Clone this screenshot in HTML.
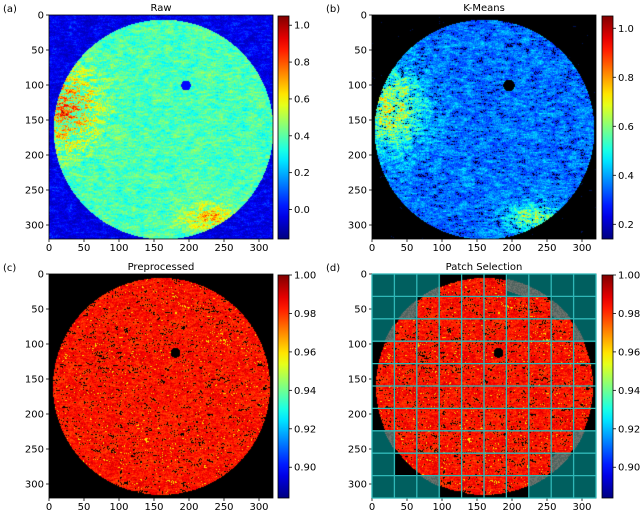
<!DOCTYPE html>
<html><head><meta charset="utf-8">
<style>
body{margin:0;background:#fff;width:640px;height:513px;overflow:hidden;position:relative;font-family:"Liberation Sans","DejaVu Sans",sans-serif}
canvas{position:absolute}
svg{position:absolute;left:0;top:0}
text{font-family:"DejaVu Sans","Liberation Sans",sans-serif;font-size:10px;fill:#000}
</style></head>
<body>
<canvas id="ca" width="224" height="224" style="left:49px;top:15px;width:224px;height:224px"></canvas>
<canvas id="cb" width="224" height="224" style="left:372px;top:15px;width:224px;height:224px"></canvas>
<canvas id="cc" width="224" height="224" style="left:49px;top:274px;width:224px;height:224px"></canvas>
<canvas id="cd" width="224" height="224" style="left:372px;top:274px;width:224px;height:224px"></canvas>
<svg id="s" width="640" height="513"></svg>
<script>
const axisTicks=[0,50,100,150,200,250,300];
const cbTicksA=[0.0,0.2,0.4,0.6,0.8,1.0];
const cbRangeA=[-0.16,1.05];
const cbTicksB=[0.2,0.4,0.6,0.8,1.0];
const cbRangeB=[0.14,1.05];
const cbTicksC=[0.90,0.92,0.94,0.96,0.98,1.00];
const cbRangeC=[0.884,1.0];
const titles=["Raw","K-Means","Preprocessed","Patch Selection"];
const panelLetters=["(a)","(b)","(c)","(d)"];
const patchMask=[
[0,0,0,1,1,1,0,0,0,0],
[0,0,1,1,1,1,1,1,0,0],
[0,1,1,1,1,1,1,1,1,0],
[1,1,1,1,1,1,1,1,1,1],
[1,1,1,1,1,1,1,1,1,1],
[1,1,1,1,1,1,1,1,1,1],
[1,1,1,1,1,1,1,1,1,1],
[0,1,1,1,1,1,1,1,1,0],
[0,1,1,1,1,1,1,1,0,0],
[0,0,0,1,1,1,1,0,0,0]];

function jet(t){t=Math.max(0,Math.min(1,t));
 const r=Math.max(0,Math.min(1,1.5-Math.abs(4*t-3)));
 const g=Math.max(0,Math.min(1,1.5-Math.abs(4*t-2)));
 const b=Math.max(0,Math.min(1,1.5-Math.abs(4*t-1)));
 return [r*255,g*255,b*255];}
function h(i,j,s){let n=i*374761393+j*668265263+s*1442695041;n=(n^(n>>>13))*1274126177;n=n^(n>>>16);return ((n>>>0)%10000)/10000;}
function vn(x,y,sc,s){const fx=x/sc,fy=y/sc,i=Math.floor(fx),j=Math.floor(fy),u=fx-i,v=fy-j;
 const a=h(i,j,s),b=h(i+1,j,s),c=h(i,j+1,s),d=h(i+1,j+1,s);
 const uu=u*u*(3-2*u),vv=v*v*(3-2*v);return a*(1-uu)*(1-vv)+b*uu*(1-vv)+c*(1-uu)*vv+d*uu*vv;}
function noise(x,y,s){return 0.45*vn(x*0.5,y*1.5,3,s)+0.2*vn(x,y,10,s+1)+0.35*h(Math.floor(x/1.4),Math.floor(y/1.4),s+2);}

function paint(id,fn){const c=document.getElementById(id),ctx=c.getContext('2d'),im=ctx.createImageData(224,224);
 for(let py=0;py<224;py++)for(let px=0;px<224;px++){const x=px/0.7,y=py/0.7;const col=fn(x,y);const k=(py*224+px)*4;
  im.data[k]=col[0];im.data[k+1]=col[1];im.data[k+2]=col[2];im.data[k+3]=255;}
 ctx.putImageData(im,0,0);}
function inC(x,y,cx,cy,r){return Math.hypot(x-cx,y-cy)<r;}
paint('ca',(x,y)=>{const n=noise(x,y,1);let v;
 if(inC(x,y,163,163,157)){v=0.22+0.32*n;
  const l=Math.exp(-(((x-25)/45)**2+((y-135)/55)**2));v+=l*0.6*(n>0.5?n:0.3*n);
  const br=Math.exp(-(((x-230)/40)**2+((y-290)/20)**2));v+=br*0.5*n;
  if(Math.hypot(x-195,y-100)<7)v=0.0;}
 else v=-0.1+0.25*n*n;
 return jet((v-cbRangeA[0])/(cbRangeA[1]-cbRangeA[0]));});
paint('cb',(x,y)=>{const n=noise(x,y,5);let v;
 if(inC(x,y,160,163,157)){v=0.2+0.3*n;
  const l=Math.exp(-(((x-25)/45)**2+((y-135)/55)**2));v+=l*0.55*n;
  const br=Math.exp(-(((x-230)/40)**2+((y-290)/20)**2));v+=br*0.45*n;
  if(Math.hypot(x-195,y-100)<8)return [0,0,0];
  if(n<0.25)return [0,0,40];}
 else return n>0.85?[0,20,90]:[0,0,0];
 return jet((v-cbRangeB[0])/(cbRangeB[1]-cbRangeB[0]));});
function prep(x,y){const n=noise(x,y,9);
 if(!inC(x,y,160,160,155))return null;
 if(Math.hypot(x-180,y-112)<7)return [0,0,0];
 if(n<0.27)return [0,0,0];
 let v=0.968+0.03*n; if(n>0.8)v=0.96;
 return jet((v-cbRangeC[0])/(cbRangeC[1]-cbRangeC[0]));}
paint('cc',(x,y)=>prep(x,y)||[0,0,0]);
paint('cd',(x,y)=>{const r=Math.min(9,Math.floor(y/32)),c=Math.min(9,Math.floor(x/32));
 if(patchMask[r][c])return prep(x,y)||[0,0,0];
 const d=Math.hypot(x-160,y-160);
 if(d<157&&d>140)return h(Math.floor(x),Math.floor(y),3)>0.5?[110,115,110]:[80,100,95];
 return [0,95,95];});

const S=document.getElementById('s');const NS='http://www.w3.org/2000/svg';
function el(t,a,txt){const e=document.createElementNS(NS,t);for(const k in a)e.setAttribute(k,a[k]);if(txt!=null)e.textContent=txt;S.appendChild(e);return e;}
const panels=[{x:49,y:15},{x:372,y:15},{x:49,y:274},{x:372,y:274}];
const cbs=[{x:278,ticks:cbTicksA,range:cbRangeA,fmt:1},{x:602,ticks:cbTicksB,range:cbRangeB,fmt:1},{x:278,ticks:cbTicksC,range:cbRangeC,fmt:2},{x:602,ticks:cbTicksC,range:cbRangeC,fmt:2}];
const g=el('defs',{});const lg=document.createElementNS(NS,'linearGradient');lg.setAttribute('id','jg');lg.setAttribute('x1','0');lg.setAttribute('y1','1');lg.setAttribute('x2','0');lg.setAttribute('y2','0');
for(let i=0;i<=20;i++){const c=jet(i/20);const st=document.createElementNS(NS,'stop');st.setAttribute('offset',i/20);st.setAttribute('stop-color',`rgb(${c.map(Math.round).join(',')})`);lg.appendChild(st);}g.appendChild(lg);
panels.forEach((p,i)=>{
 const sx=v=>p.x+v*0.7,sy=v=>p.y+v*0.7;
 const fr=el('rect',{x:p.x,y:p.y,width:224,height:224,fill:'none',stroke:'#000','stroke-width':0.8});
 
 axisTicks.forEach(t=>{
  el('line',{x1:sx(t),x2:sx(t),y1:p.y+224,y2:p.y+227,stroke:'#000','stroke-width':0.8});
  const xl=el('text',{x:sx(t),y:p.y+236,'text-anchor':'middle'},t);
  el('line',{x1:p.x-3,x2:p.x,y1:sy(t),y2:sy(t),stroke:'#000','stroke-width':0.8});
  const yl=el('text',{x:p.x-5,y:sy(t)+3.5,'text-anchor':'end'},t);
 });
 const tt=el('text',{x:p.x+112,y:p.y-4,'text-anchor':'middle','font-size':'10.5'},titles[i]);
 const pl=el('text',{x:p.x-46,y:p.y-3,'font-size':'11'},panelLetters[i]);
 const cb=cbs[i];const top=p.y+1,bot=p.y+224;
 const cr=el('rect',{x:cb.x,y:top,width:11,height:bot-top,fill:'url(#jg)',stroke:'#000','stroke-width':0.8});
 
 cb.ticks.forEach(t=>{const y=bot-(t-cb.range[0])/(cb.range[1]-cb.range[0])*(bot-top);
  el('line',{x1:cb.x+11,x2:cb.x+14,y1:y,y2:y,stroke:'#000','stroke-width':0.8});
  const cl=el('text',{x:cb.x+16,y:y+3.5},t.toFixed(cb.fmt));});
});
[0,1,2,3,4,5,6,7,8,9,10].forEach(k=>{const v=Math.min(320,k*32);
 el('line',{x1:372+v*0.7,x2:372+v*0.7,y1:274,y2:498,stroke:'#2fb8b8','stroke-width':1.3});
 el('line',{x1:372,x2:596,y1:274+v*0.7,y2:274+v*0.7,stroke:'#2fb8b8','stroke-width':1.3});});
</script>
</body></html>
